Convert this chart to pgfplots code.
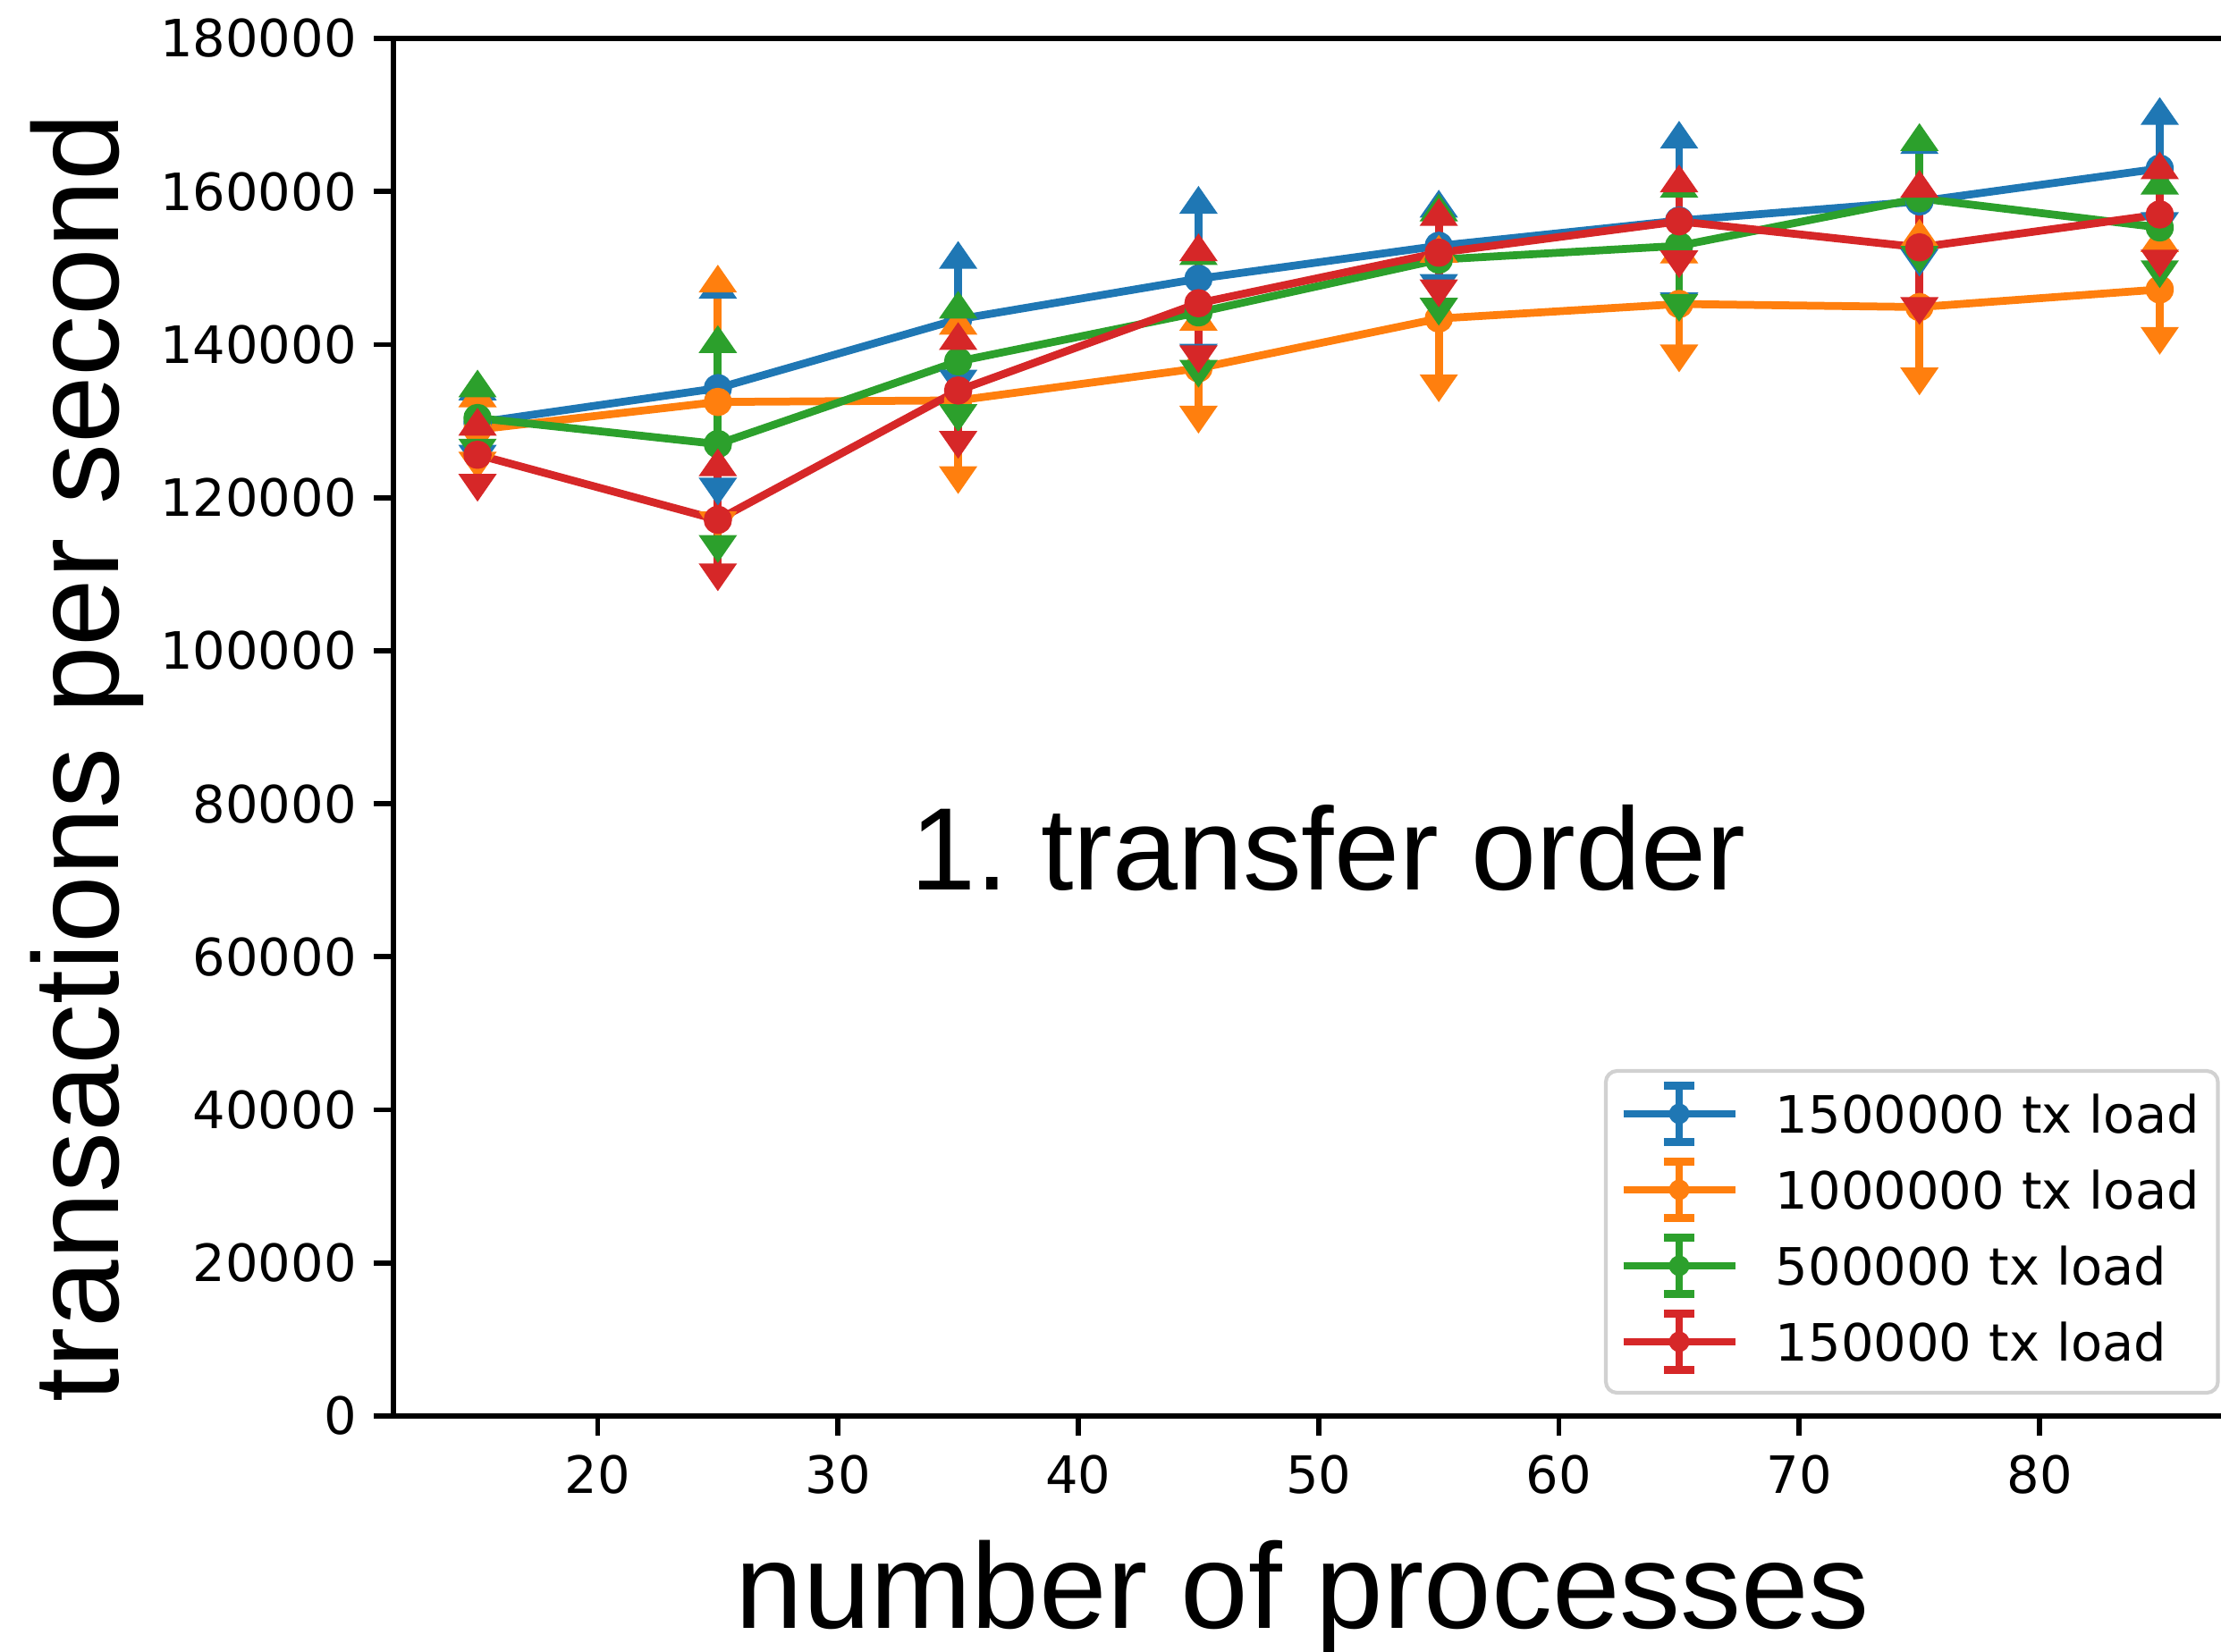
\documentclass[border=0pt]{standalone}
\usepackage{fontspec}
\setmainfont{DejaVu Sans}
\newfontfamily\arialfont{Liberation Sans}
\usepackage{pgfplots}
\usepackage{pgfplotstable}
\pgfplotsset{compat=1.18}
\frenchspacing

\definecolor{tabblue}{HTML}{1F77B4}
\definecolor{taborange}{HTML}{FF7F0E}
\definecolor{tabgreen}{HTML}{2CA02C}
\definecolor{tabred}{HTML}{D62728}

% x = number of processes, y = mean, e = error
\pgfplotstableread{
x y e
15 129800 3000
25 134300 11800
35 143300 6700
45 148600 8600
55 152900 3800
65 156200 9500
75 158700 6300
85 163000 5800
}\tblue
\pgfplotstableread{
x y e
15 128900 3000
25 132500 14400
35 132700 8700
45 136900 5000
55 143400 7400
65 145300 5400
75 144900 8000
85 147200 5000
}\torange
\pgfplotstableread{
x y e
15 130400 2800
25 127000 12000
35 137800 5700
45 144200 6300
55 151100 5100
65 152900 6400
75 159100 6300
85 155300 4400
}\tgreen
\pgfplotstableread{
x y e
15 125600 2600
25 117100 5800
35 134000 5400
45 145400 5600
55 152000 3600
65 156100 3900
75 152700 6600
85 157000 4700
}\tred

\pgfplotsset{
  ebleg/.style={legend image code/.code={
    \path[draw=none, fill=none, use as bounding box] (0pt,0pt) rectangle (30pt,10pt);
    \draw[draw=#1, fill=none, line width=2.1pt, rounded corners=0pt] (0pt,5.1pt) -- (30pt,5.1pt);
    \draw[draw=#1, fill=none, line width=2.1pt, rounded corners=0pt] (15pt,-2.5pt) -- (15pt,12.7pt);
    \draw[draw=#1, fill=none, line width=2.1pt, rounded corners=0pt] (10.85pt,-2.5pt) -- (19.15pt,-2.5pt);
    \draw[draw=#1, fill=none, line width=2.1pt, rounded corners=0pt] (10.85pt,12.7pt) -- (19.15pt,12.7pt);
    \fill[fill=#1, draw=none] (15pt,5.1pt) circle (2.75pt);
  }},
  mainser/.style={#1, line width=2.1pt, line join=round, mark=*, mark size=2.75pt,
    mark options={solid}, ebleg=#1,
    error bars/.cd, y dir=both, y explicit, error mark=none,
    error bar style={line width=2.1pt, #1}},
  upt/.style={forget plot, only marks, mark=triangle*, mark size=4.6pt, color=#1,
    mark options={yshift=2.3pt, xscale=1.2}},
  dnt/.style={forget plot, only marks, mark=triangle*, mark size=4.6pt, color=#1,
    mark options={yshift=-2.3pt, rotate=180, xscale=1.2}},
}

\begin{document}
\begin{tikzpicture}
\begin{axis}[
  at={(0pt,0pt)}, anchor=south west,
  scale only axis, width=496.7pt, height=369.84pt,
  xmin=11.5, xmax=88.5, ymin=0, ymax=180000,
  xtick={20,30,40,50,60,70,80},
  ytick={0,20000,40000,60000,80000,100000,120000,140000,160000,180000},
  scaled y ticks=false, scaled x ticks=false,
  /pgf/number format/assume math mode=true,
  yticklabel style={/pgf/number format/fixed, /pgf/number format/1000 sep={}, inner sep=0pt},
  xticklabel style={inner sep=0pt},
  ticklabel style={font=\fontsize{13.8}{16}\selectfont},
  xticklabel shift=5.2pt, yticklabel shift=4.5pt,
  tick pos=left, tick align=outside, major tick length=5.2pt,
  every tick/.style={black, line width=1.4pt},
  axis line style={black, line width=1.4pt},
  xlabel={number of processes},
  ylabel={transactions per second},
  xlabel style={font=\arialfont\fontsize{32.6}{38}\selectfont, at={(axis description cs:0.4914,-0.154)}, anchor=base, inner sep=0pt},
  ylabel style={font=\arialfont\fontsize{32.6}{38}\selectfont, at={(axis description cs:-0.1484,0.478)}, anchor=base, inner sep=0pt},
  legend style={at={(axis description cs:0.987,0.0155)}, anchor=south east,
    draw=black!18, line width=1pt, rounded corners=3pt, fill=white,
    font=\fontsize{13.8}{16}\selectfont,
    inner xsep=4.7pt, inner ysep=5.6pt, row sep=6.4pt,
    nodes={inner sep=0pt, text height=11pt, text depth=3pt, anchor=base west, text width=114pt},
    /tikz/every odd column/.append style={column sep=10.9pt}},
  legend cell align=left,
  clip=false,
]
\addplot[mainser=tabblue] table[x=x,y=y,y error=e]{\tblue};
\addlegendentry{1500000 tx load}
\addplot[upt=tabblue] table[x=x, y expr=\thisrow{y}+\thisrow{e}]{\tblue};
\addplot[dnt=tabblue] table[x=x, y expr=\thisrow{y}-\thisrow{e}]{\tblue};

\addplot[mainser=taborange] table[x=x,y=y,y error=e]{\torange};
\addlegendentry{1000000 tx load}
\addplot[upt=taborange] table[x=x, y expr=\thisrow{y}+\thisrow{e}]{\torange};
\addplot[dnt=taborange] table[x=x, y expr=\thisrow{y}-\thisrow{e}]{\torange};

\addplot[mainser=tabgreen] table[x=x,y=y,y error=e]{\tgreen};
\addlegendentry{500000 tx load}
\addplot[upt=tabgreen] table[x=x, y expr=\thisrow{y}+\thisrow{e}]{\tgreen};
\addplot[dnt=tabgreen] table[x=x, y expr=\thisrow{y}-\thisrow{e}]{\tgreen};

\addplot[mainser=tabred] table[x=x,y=y,y error=e]{\tred};
\addlegendentry{150000 tx load}
\addplot[upt=tabred] table[x=x, y expr=\thisrow{y}+\thisrow{e}]{\tred};
\addplot[dnt=tabred] table[x=x, y expr=\thisrow{y}-\thisrow{e}]{\tred};

\node[anchor=base, inner sep=0pt, font=\arialfont\fontsize{31.5}{38}\selectfont] at (rel axis cs:0.505,0.3822) {1. transfer order};
\end{axis}
\pgfresetboundingbox
\path[use as bounding box] (-105.6pt,-63.36pt) rectangle (490.56pt,380.16pt);
\end{tikzpicture}
\end{document}
